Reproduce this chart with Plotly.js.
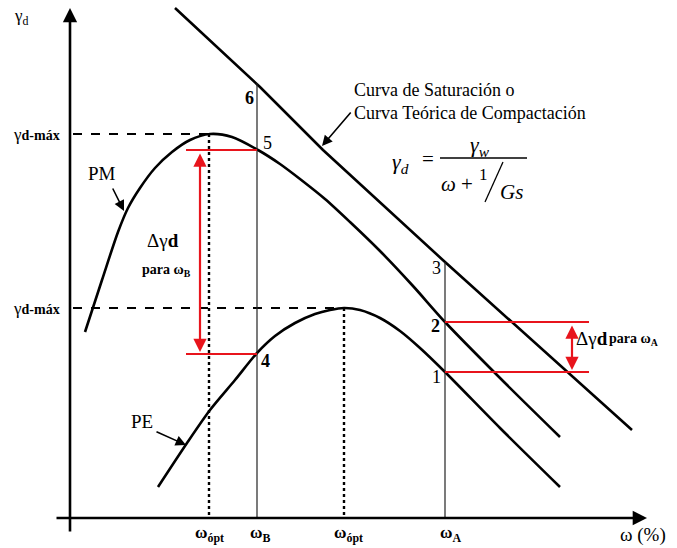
<!DOCTYPE html>
<html><head><meta charset="utf-8">
<script src="https://cdn.plot.ly/plotly-3.0.1.min.js"></script>
<style>html,body{margin:0;padding:0;background:#fff}#c{width:677px;height:548px}</style>
</head><body><div id="c"></div>
<script>
// Schematic units: x = water content ω, y = dry unit weight γd (y axis drawn reversed)
const satW = [175, 260, 323, 445, 632];
const satG = [8, 87, 150, 262, 430];
const pmW = [85, 102, 118, 128, 140, 155, 172, 190, 210, 232, 258, 280, 300, 325, 350, 380, 413, 445, 500, 560];
const pmG = [332, 280, 232, 208, 188, 168, 152, 140, 134, 137, 150, 164, 179, 199, 222, 251, 286, 322, 378, 437];
const peW = [158, 187, 210, 235, 257, 275, 295, 315, 330, 344, 360, 380, 400, 420, 445, 500, 560];
const peG = [487, 443, 410, 380, 353, 336, 323, 314, 310, 308, 310, 318, 331, 348, 372, 428, 487];
const wOpt = [209, 344];
const gMax = [134, 308];
const wB = 257, wA = 445;
const gAt6 = 85, gAt3 = 262;
const g5 = 150, g4 = 354, g2 = 322, g1 = 372;
const pointLabels = ['<b>6</b>', '5', '<b>4</b>', '3', '<b>2</b>', '1'];
const pointW = [249, 267, 265, 436, 435, 436];
const pointG = [98, 143, 361, 268, 326, 377];
const tickLabels = ['<b>ω<sub>ópt</sub></b>', '<b>ω<sub>B</sub></b>', '<b>ω<sub>ópt</sub></b>', '<b>ω<sub>A</sub></b>'];
const tickW = [209, 260, 348, 450];
const axisW0 = 55, axisW1 = 647, axisG0 = 518;
const axisGtop = 8, axisGbot = 533, axisWpos = 70;

const serif = "'Liberation Serif', 'Times New Roman', serif";
const black = '#000';
const red = '#e8141c';

const traces = [];
function line(x, y, color, width, dash, shape) {
  traces.push({x: x, y: y, mode: 'lines', hoverinfo: 'skip', showlegend: false,
    line: {color: color, width: width, dash: dash || 'solid', shape: shape || 'linear', smoothing: 0.8}});
}
// curves
line(satW, satG, black, 2.6);
line(pmW, pmG, black, 2.6, 'solid', 'spline');
line(peW, peG, black, 2.6, 'solid', 'spline');
// guides
line([axisWpos + 3, wOpt[0]], [gMax[0], gMax[0]], black, 2, 'dash');
line([axisWpos + 3, wOpt[1]], [gMax[1], gMax[1]], black, 2, 'dash');
line([wOpt[0], wOpt[0]], [gMax[0], axisG0], black, 2.4, 'dot');
line([wOpt[1], wOpt[1]], [gMax[1], axisG0], black, 2.4, 'dot');
line([wB, wB], [gAt6 - 2, axisG0], '#222', 1.2);
line([wA, wA], [gAt3, axisG0], '#222', 1.2);
// red
line([186, wB], [g5, g5], red, 2.2);
line([186, wB], [g4, g4], red, 2.2);
line([wA, 589], [g2, g2], red, 2.2);
line([wA, 589], [g1, g1], red, 2.2);

const ann = [];
function arrow(x0, y0, x1, y1, color, width, side, size) {
  ann.push({x: x1, y: y1, ax: x0, ay: y0, xref: 'x', yref: 'y', axref: 'x', ayref: 'y',
    text: '', showarrow: true, arrowhead: 2, arrowsize: size || 1, arrowwidth: width,
    arrowcolor: color, arrowside: side || 'end'});
}
function txt(x, y, t, size, opts) {
  ann.push(Object.assign({x: x, y: y, xref: 'x', yref: 'y', text: t, showarrow: false,
    font: {family: serif, size: size, color: black}}, opts || {}));
}
// axes
arrow(axisW0, axisG0, axisW1, axisG0, black, 2.6, 'end', 1.1);
arrow(axisWpos, axisGbot, axisWpos, axisGtop, black, 2.6, 'end', 1.1);
// red double arrows
arrow(200, g5 + 2, 200, g4 - 2, red, 2.2, 'end+start', 1.2);
arrow(572, g2 + 2, 572, g1 - 2, red, 2.2, 'end+start', 1.2);
// pointer arrows
arrow(112, 187, 124, 211, black, 1.6, 'end', 1.3);
arrow(155, 431, 186, 445, black, 1.6, 'end', 1.3);
arrow(352, 111, 322, 146, black, 1.6, 'end', 1.3);

// point labels
for (let i = 0; i < pointLabels.length; i++) txt(pointW[i], pointG[i], pointLabels[i], 18);
// ticks
for (let i = 0; i < tickLabels.length; i++) txt(tickW[i], 534, tickLabels[i], 17);
txt(643, 535, 'ω (%)', 19);
// y labels
txt(21, 17, 'γ<sub>d</sub>', 17);
txt(36, gMax[0], '<span style="font-size:17px">γ</span><b>d-máx</b>', 14);
txt(36, gMax[1], '<span style="font-size:17px">γ</span><b>d-máx</b>', 14);
txt(102, 173, 'PM', 19);
txt(142, 421, 'PE', 19);
txt(163, 240, 'Δγ<b>d</b>', 19);
txt(166, 270, '<b>para ω<sub>B</sub></b>', 14);
txt(574, 338, 'Δγ<b>d</b>', 19, {xanchor: 'left'});
txt(607, 339, '<b>para ω<sub>A</sub></b>', 14, {xanchor: 'left'});
// saturation label
txt(352, 90, 'Curva de Saturación o', 18, {xanchor: 'left'});
txt(352, 113, 'Curva Teórica de Compactación', 18, {xanchor: 'left'});
// formula
txt(400, 163, '<i>γ<sub>d</sub></i>', 22);
txt(428, 159, '=', 21);
txt(480, 146, '<i>γ<sub>w</sub></i>', 22);
line([440, 527], [158, 158], black, 1.3);
txt(457, 184, '<i>ω</i> +', 21);
txt(483, 174, '1', 17);
line([485, 503], [202, 162], black, 1.3);
txt(511, 192, '<i>Gs</i>', 21);

Plotly.newPlot('c', traces, {
  width: 677, height: 548, margin: {l: 0, r: 0, t: 0, b: 0},
  paper_bgcolor: '#fff', plot_bgcolor: '#fff', showlegend: false,
  xaxis: {range: [0, 677], visible: false, fixedrange: true},
  yaxis: {range: [548, 0], visible: false, fixedrange: true},
  annotations: ann
}, {staticPlot: true});
</script></body></html>
